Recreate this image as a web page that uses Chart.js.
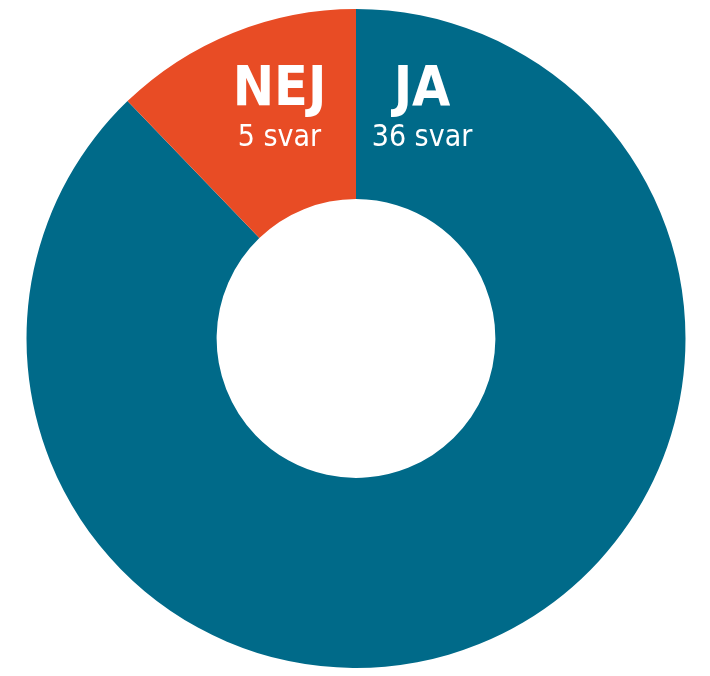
<!DOCTYPE html>
<html>
<head>
<meta charset="utf-8">
<script src="https://cdn.jsdelivr.net/npm/chart.js@4.4.1/dist/chart.umd.min.js"></script>
<style>
    html, body {margin: 0; padding: 0; background: #fff;}
    #wrap {width: 710px; height: 676px;}
</style>
</head>
<body>
<div id="wrap"><canvas id="chart" width="710" height="676"></canvas></div>
<script>
// svar på frågan, ja först så att nej hamnar till vänster om toppen
const labels = ['JA', 'NEJ'];
const answers = [36, 5];
const sliceColors = ['#006a89', '#e84c25'];

const FONT = '"Liberation Sans Narrow", "DejaVu Sans Condensed", "Roboto", sans-serif';

// skriver etiketterna inuti ringen, ovanför hålet
const sliceLabels = {
    id: 'sliceLabels',
    afterDraw(chart) {
        const ctx = chart.ctx;
        const arc = chart.getDatasetMeta(0).data[0];
        const cx = arc.x, cy = arc.y;
        // x-förskjutning från mitten per etikett
        const offsets = [66, -76.5];
        ctx.save();
        ctx.fillStyle = '#fff';
        ctx.textAlign = 'center';
        ctx.textBaseline = 'alphabetic';
        labels.forEach((lbl, i) => {
            const x = cx + offsets[i];
            ctx.font = 'bold 55px ' + FONT;
            ctx.fillText(lbl, x, cy - 233.5);
            ctx.font = '30px ' + FONT;
            ctx.fillText(answers[i] + ' svar', x, cy - 193);
        });
        ctx.restore();
    }
};

new Chart(document.getElementById('chart'), {
    type: 'doughnut',
    data: {
        labels: labels,
        datasets: [{
            data: answers,
            backgroundColor: sliceColors,
            borderWidth: 0,
            hoverOffset: 0
        }]
    },
    options: {
        responsive: false,
        animation: false,
        cutout: '42.3%',
        layout: {padding: {top: 9, bottom: 8, left: 2, right: 0}},
        plugins: {
            legend: {display: false},
            tooltip: {enabled: false}
        }
    },
    plugins: [sliceLabels]
});
</script>
</body>
</html>
